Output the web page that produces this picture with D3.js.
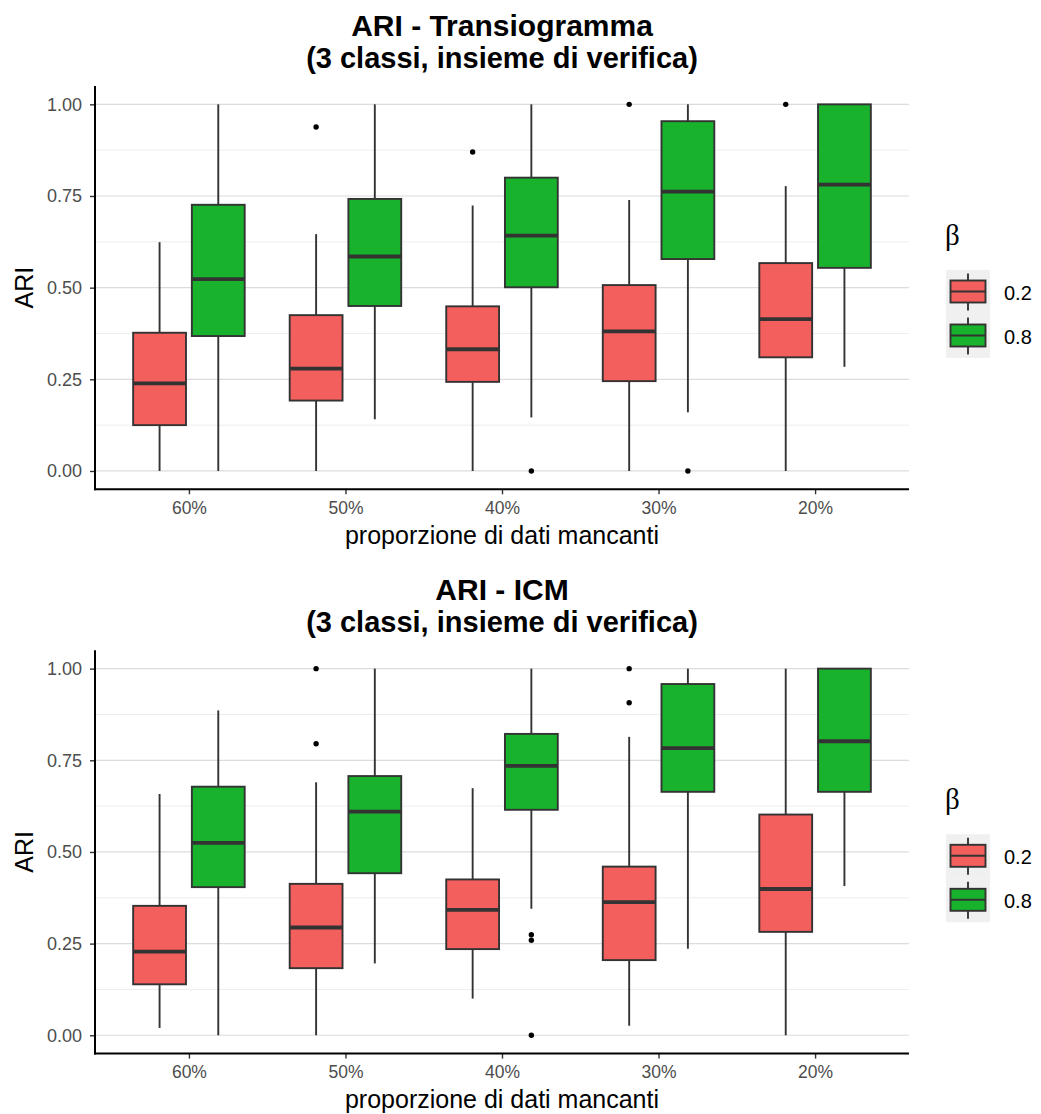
<!DOCTYPE html>
<html>
<head>
<meta charset="utf-8">
<script src="https://cdn.jsdelivr.net/npm/d3@7"></script>
<style>
  html, body { margin: 0; padding: 0; background: #ffffff; }
  svg { display: block; }
</style>
</head>
<body>
<svg id="chart" width="1041" height="1114"></svg>
<script>
// ---------------- DATA ----------------
const categories = ["60%", "50%", "40%", "30%", "20%"];
const groups = ["0.2", "0.8"];
const yTicks = [0, 0.25, 0.5, 0.75, 1];
const yMinor = [0.125, 0.375, 0.625, 0.875];
const titlesTop = ["ARI - Transiogramma", "(3 classi, insieme di verifica)"];
const titlesBottom = ["ARI - ICM", "(3 classi, insieme di verifica)"];
const xTitle = "proporzione di dati mancanti";
const yTitle = "ARI";
const legendTitle = "β";

// box stats: [lower whisker, Q1, median, Q3, upper whisker], one per category
const transRed = [
  [0.000, 0.125, 0.239, 0.377, 0.624],
  [0.000, 0.192, 0.279, 0.425, 0.646],
  [0.000, 0.243, 0.332, 0.449, 0.724],
  [0.000, 0.245, 0.381, 0.507, 0.739],
  [0.000, 0.310, 0.414, 0.567, 0.777]
];
const transGreen = [
  [0.000, 0.368, 0.523, 0.726, 1.000],
  [0.141, 0.450, 0.585, 0.742, 1.000],
  [0.146, 0.501, 0.642, 0.800, 1.000],
  [0.160, 0.578, 0.762, 0.954, 1.000],
  [0.284, 0.554, 0.781, 1.000, 1.000]
];
const transRedOut = [[], [0.938], [0.870], [1.000], [1.000]];
const transGreenOut = [[], [], [0.000], [0.000], []];

const icmRed = [
  [0.020, 0.139, 0.228, 0.353, 0.658],
  [0.000, 0.183, 0.294, 0.413, 0.690],
  [0.100, 0.235, 0.342, 0.425, 0.674],
  [0.026, 0.205, 0.363, 0.460, 0.814],
  [0.000, 0.282, 0.399, 0.602, 1.000]
];
const icmGreen = [
  [0.000, 0.404, 0.525, 0.678, 0.886],
  [0.196, 0.442, 0.610, 0.707, 1.000],
  [0.345, 0.615, 0.735, 0.822, 1.000],
  [0.236, 0.664, 0.783, 0.958, 1.000],
  [0.407, 0.664, 0.802, 1.000, 1.000]
];
const icmRedOut = [[], [1.000, 0.795], [], [1.000, 0.907], []];
const icmGreenOut = [[], [], [0.274, 0.259, 0.000], [], []];

const fills = ["#F25F5C", "#19B22D"];

// ---------------- DRAW ----------------
const svg = d3.select("#chart");
const FONT = "'Liberation Sans', Arial, Helvetica, sans-serif";
const plotLeft = 95, plotRight = 909;
const SW = 1.9;

const x = d3.scalePoint().domain(categories).range([plotLeft, plotRight]).padding(0.6);
const dodge = x.step() * 0.75;
const xg = d3.scaleBand().domain(groups).range([-dodge / 2, dodge / 2]).padding(0);
const boxW = xg.bandwidth() * 0.9;

function drawPanel(off, titles, statsByGroup, outByGroup) {
  const g = svg.append("g");
  const y = d3.scaleLinear().domain([-0.05, 1.05]).range([489.3 + off, 86 + off]);

  // titles
  titles.forEach((t, i) => {
    g.append("text")
      .attr("x", (plotLeft + plotRight) / 2)
      .attr("y", off + 36 + i * 32)
      .attr("text-anchor", "middle")
      .attr("font-family", FONT)
      .attr("font-weight", "bold")
      .attr("font-size", i === 0 ? 30 : 29)
      .attr("fill", "#000")
      .text(t);
  });

  // grid
  g.selectAll(".minor").data(yMinor).enter().append("line")
    .attr("x1", plotLeft).attr("x2", plotRight)
    .attr("y1", d => y(d)).attr("y2", d => y(d))
    .attr("stroke", "#ebebeb").attr("stroke-width", 0.9);
  g.selectAll(".major").data(yTicks).enter().append("line")
    .attr("x1", plotLeft).attr("x2", plotRight)
    .attr("y1", d => y(d)).attr("y2", d => y(d))
    .attr("stroke", "#dcdcdc").attr("stroke-width", 1.2);

  // boxes
  groups.forEach((grp, gi) => {
    const stats = statsByGroup[gi];
    const outs = outByGroup[gi];
    categories.forEach((cat, ci) => {
      const s = stats[ci];
      const cx = x(cat) + xg(grp) + xg.bandwidth() / 2;
      const bg = g.append("g");
      bg.append("line").attr("x1", cx).attr("x2", cx)
        .attr("y1", y(s[3])).attr("y2", y(s[4]))
        .attr("stroke", "#333333").attr("stroke-width", SW);
      bg.append("line").attr("x1", cx).attr("x2", cx)
        .attr("y1", y(s[0])).attr("y2", y(s[1]))
        .attr("stroke", "#333333").attr("stroke-width", SW);
      bg.append("rect")
        .attr("x", cx - boxW / 2).attr("width", boxW)
        .attr("y", y(s[3])).attr("height", y(s[1]) - y(s[3]))
        .attr("fill", fills[gi]).attr("stroke", "#333333").attr("stroke-width", SW);
      bg.append("line")
        .attr("x1", cx - boxW / 2).attr("x2", cx + boxW / 2)
        .attr("y1", y(s[2])).attr("y2", y(s[2]))
        .attr("stroke", "#333333").attr("stroke-width", 3.8);
      outs[ci].forEach(v => {
        bg.append("circle").attr("cx", cx).attr("cy", y(v)).attr("r", 2.7).attr("fill", "#000");
      });
    });
  });

  // y axis
  const yAxis = d3.axisLeft(y).tickValues(yTicks).tickFormat(d3.format(".2f")).tickSize(5).tickPadding(8);
  const ya = g.append("g").attr("transform", `translate(${plotLeft},0)`).call(yAxis);
  ya.select(".domain").remove();
  ya.selectAll(".tick line").attr("stroke", "#333333").attr("stroke-width", 1.4);
  ya.selectAll(".tick text").attr("font-family", FONT).attr("font-size", 18).attr("fill", "#4d4d4d");
  g.append("line").attr("x1", plotLeft).attr("x2", plotLeft)
    .attr("y1", 86 + off).attr("y2", 489.3 + off + 1)
    .attr("stroke", "#000").attr("stroke-width", 2);

  // x axis
  const xAxis = d3.axisBottom(x).tickSize(5).tickPadding(7);
  const xa = g.append("g").attr("transform", `translate(0,${489.3 + off})`).call(xAxis);
  xa.select(".domain").remove();
  xa.selectAll(".tick line").attr("stroke", "#333333").attr("stroke-width", 1.4);
  xa.selectAll(".tick text").attr("font-family", FONT).attr("font-size", 17.5).attr("fill", "#4d4d4d");
  g.append("line").attr("x1", plotLeft - 1).attr("x2", plotRight)
    .attr("y1", 489.3 + off).attr("y2", 489.3 + off)
    .attr("stroke", "#000").attr("stroke-width", 2);

  // axis titles
  g.append("text")
    .attr("x", (plotLeft + plotRight) / 2).attr("y", 543.5 + off)
    .attr("text-anchor", "middle")
    .attr("font-family", FONT).attr("font-size", 25).attr("fill", "#000")
    .text(xTitle);
  g.append("text")
    .attr("transform", `translate(33,${(86 + 489.3) / 2 + off}) rotate(-90)`)
    .attr("text-anchor", "middle")
    .attr("font-family", FONT).attr("font-size", 25).attr("fill", "#000")
    .text(yTitle);

  // legend
  g.append("text")
    .attr("x", 945).attr("y", 245 + off)
    .attr("font-family", "'Liberation Serif', 'DejaVu Serif', serif")
    .attr("font-size", 29).attr("fill", "#000")
    .text(legendTitle);
  groups.forEach((grp, gi) => {
    const top = 270 + off + gi * 44;
    const kx = 946, kw = 44, kh = 44;
    g.append("rect").attr("x", kx).attr("y", top).attr("width", kw).attr("height", kh)
      .attr("fill", "#f0f0f0");
    const cx = kx + kw / 2;
    g.append("line").attr("x1", cx).attr("x2", cx).attr("y1", top + 3.5).attr("y2", top + 40.5)
      .attr("stroke", "#333333").attr("stroke-width", SW);
    g.append("rect").attr("x", kx + 4.5).attr("y", top + 10.5).attr("width", kw - 9).attr("height", 22)
      .attr("fill", fills[gi]).attr("stroke", "#333333").attr("stroke-width", SW);
    g.append("line").attr("x1", kx + 4.5).attr("x2", kx + kw - 4.5).attr("y1", top + 21.5).attr("y2", top + 21.5)
      .attr("stroke", "#333333").attr("stroke-width", SW);
    g.append("text").attr("x", 1004).attr("y", top + 29.5)
      .attr("font-family", FONT).attr("font-size", 20).attr("fill", "#000")
      .text(grp);
  });
}

drawPanel(0, titlesTop, [transRed, transGreen], [transRedOut, transGreenOut]);
drawPanel(564.3, titlesBottom, [icmRed, icmGreen], [icmRedOut, icmGreenOut]);
</script>
</body>
</html>
